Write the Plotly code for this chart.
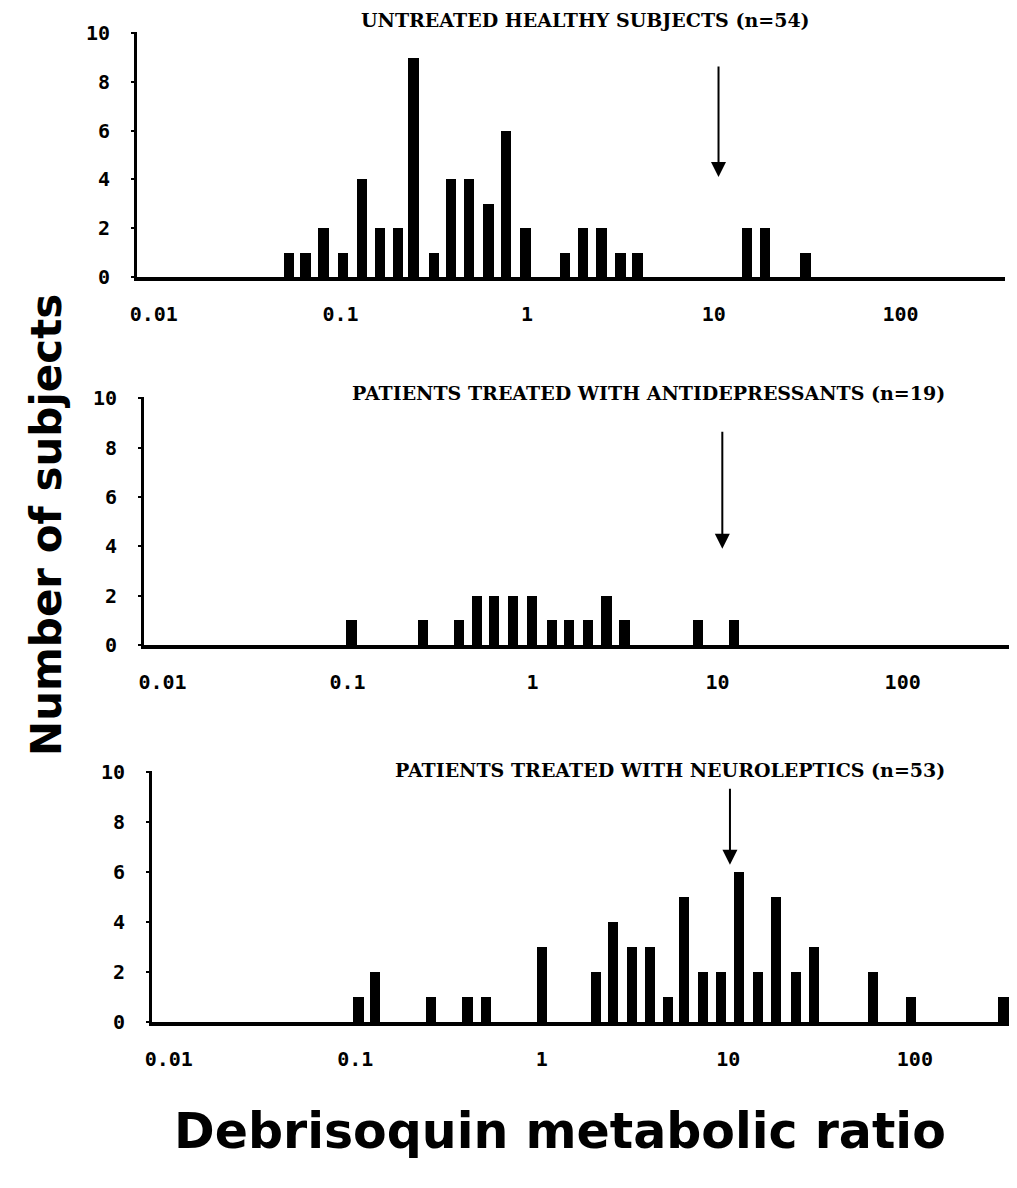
import numpy as np
import plotly.graph_objects as go

# ---------------- data ----------------
titles = [
    "UNTREATED HEALTHY SUBJECTS (n=54)",
    "PATIENTS TREATED WITH ANTIDEPRESSANTS (n=19)",
    "PATIENTS TREATED WITH NEUROLEPTICS (n=53)",
]

healthy_ratio = [0.053, 0.065, 0.081, 0.103, 0.13, 0.163, 0.203, 0.246, 0.318, 0.392,
                 0.486, 0.62, 0.769, 0.98, 1.59, 2.0, 2.5, 3.16, 3.9, 15.1, 18.8, 31.0]
healthy_count = [1, 1, 2, 1, 4, 2, 2, 9, 1, 4, 4, 3, 6, 2, 1, 2, 2, 1, 1, 2, 2, 1]

antidep_ratio = [0.105, 0.255, 0.40, 0.50, 0.62, 0.78, 0.99, 1.27, 1.57, 2.0, 2.51, 3.14, 7.8, 12.2]
antidep_count = [1, 1, 1, 2, 2, 2, 2, 1, 1, 1, 2, 1, 1, 1]

neuro_ratio = [0.104, 0.128, 0.255, 0.40, 0.50, 1.0, 1.96, 2.41, 3.03, 3.79, 4.73, 5.78,
               7.32, 9.14, 11.4, 14.4, 18.0, 23.0, 28.8, 59.4, 95.4, 299.0]
neuro_count = [1, 2, 1, 1, 1, 3, 2, 4, 3, 3, 1, 5, 2, 2, 6, 2, 5, 2, 3, 2, 1, 1]

# antimode arrows: (x position, top value, tip value)
arrow_x = [10.6, 10.6, 10.2]
arrow_top = [8.7, 8.7, 9.4]
arrow_tip = [4.1, 3.9, 6.3]

x_tick_values = [0.01, 0.1, 1, 10, 100]
x_tick_labels = ["0.01", "0.1", "1", "10", "100"]
y_tick_values = [0, 2, 4, 6, 8, 10]

# ---------------- layout helpers ----------------
PAGE_W, PAGE_H = 1017, 1188
OFF = 8  # default body margin of the html page
W, H = PAGE_W - OFF, PAGE_H - OFF


def px(xp):
    return (xp - OFF) / W


def py(yp):
    return 1 - (yp - OFF) / H


panels = [
    dict(x0=137, x1=1005, ytop=32, ybase=277, xr=[-2.09, 2.56], tx=585, ty=20),
    dict(x0=144, x1=1010, ytop=397, ybase=645, xr=[-2.10, 2.58], tx=648, ty=393),
    dict(x0=152, x1=1010, ytop=771, ybase=1022, xr=[-2.09, 2.51], tx=670, ty=770),
]
data = [(healthy_ratio, healthy_count), (antidep_ratio, antidep_count), (neuro_ratio, neuro_count)]

fig = go.Figure()
tickfont = dict(family="DejaVu Sans Mono", size=20, color="black", weight="bold")

for i, (p, (xr, yc)) in enumerate(zip(panels, data)):
    n = "" if i == 0 else str(i + 1)
    xa, ya = "x" + n, "y" + n
    fig.add_trace(go.Bar(
        x=np.log10(xr), y=yc, width=0.055,
        marker=dict(color="black", line=dict(width=0)),
        xaxis=xa, yaxis=ya, showlegend=False,
    ))
    dom_x = [px(p["x0"]), min(1.0, px(p["x1"]))]
    dom_y = [py(p["ybase"]), py(p["ytop"])]
    fig.layout["xaxis" + n] = dict(
        domain=dom_x, range=p["xr"], anchor=ya, automargin=False,
        tickvals=list(np.log10(x_tick_values)), ticktext=x_tick_labels,
        showline=True, linewidth=4, linecolor="black", showgrid=False, zeroline=False,
        ticks="", tickfont=tickfont, ticklabelstandoff=16,
    )
    fig.layout["yaxis" + n] = dict(
        domain=dom_y, range=[0, 10.05], anchor=xa, automargin=False,
        tickvals=y_tick_values, showline=True, linewidth=3, linecolor="black",
        showgrid=False, zeroline=False, ticks="outside", ticklen=3, tickwidth=2,
        tickcolor="black", tickfont=tickfont, ticklabelstandoff=17,
    )
    fig.add_annotation(
        x=np.log10(arrow_x[i]), y=arrow_tip[i], ax=np.log10(arrow_x[i]), ay=arrow_top[i],
        xref=xa, yref=ya, axref=xa, ayref=ya, showarrow=True,
        arrowhead=2, arrowsize=1.5, arrowwidth=2, arrowcolor="black", text="",
    )
    fig.add_annotation(
        x=px(p["tx"]), y=py(p["ty"]), xref="paper", yref="paper",
        text=titles[i], showarrow=False, xanchor="center", yanchor="middle",
        font=dict(family="DejaVu Serif", size=19, color="black", weight="bold"),
    )

fig.add_annotation(
    x=px(46), y=py(525), xref="paper", yref="paper", text="Number of subjects",
    textangle=-90, showarrow=False, xanchor="center", yanchor="middle",
    font=dict(family="DejaVu Sans", size=42, color="black", weight="bold"),
)
fig.add_annotation(
    x=px(560), y=py(1131), xref="paper", yref="paper", text="Debrisoquin metabolic ratio",
    showarrow=False, xanchor="center", yanchor="middle",
    font=dict(family="DejaVu Sans", size=49, color="black", weight="bold"),
)

fig.update_layout(
    width=W, height=H, margin=dict(l=0, r=0, t=0, b=0),
    paper_bgcolor="white", plot_bgcolor="white", bargap=0,
)
fig.write_html("out.html")
